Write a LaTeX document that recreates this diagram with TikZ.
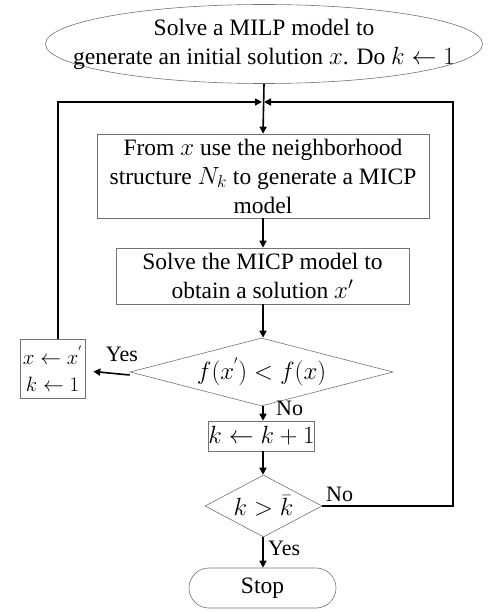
\documentclass[tikz,border=0pt]{standalone}
\usepackage{fontspec}
\setmainfont{Liberation Serif}
\usetikzlibrary{shapes.geometric,arrows.meta}
\tikzset{
  box/.style={draw=black!55, line width=0.6pt, align=center, inner sep=0pt},
  txt/.style={align=center, inner sep=0pt},
  conn/.style={line width=1.6pt, -{Triangle[length=7pt,width=7pt]}},
  lbl/.style={inner sep=0pt, font=\fontsize{22}{24}\selectfont}
}
\begin{document}
\begin{tikzpicture}[x=1pt,y=-1pt, font=\fontsize{23.5}{29}\selectfont]
\useasboundingbox (0,0) rectangle (487,612);
\node[box, ellipse, minimum width=437pt, minimum height=79pt] (start) at (264,44) {};
\node[txt] (startt) at (start) {Solve a MILP model to\\ generate an initial solution $x$. Do $k\leftarrow 1$};
\node[box, minimum width=332pt, minimum height=84pt] (b1) at (263,176)
  {From $x$ use the neighborhood\\ structure $N_k$ to generate a MICP\\ model};
\node[box, minimum width=293pt, minimum height=56pt] (b2) at (262.5,276)
  {Solve the MICP model to\\ obtain a solution $x'$};
\node[box, diamond, minimum width=263pt, minimum height=68pt] (d1) at (261.5,372) {};
\node[txt] (d1t) at (d1) {$f\big(x^{'}\big) < f(x)$};
\node[box, minimum width=65pt, minimum height=59pt, font=\fontsize{20.5}{27}\selectfont] (upd) at (52.5,368.5)
  {$x\leftarrow x^{'}$\\ $k\leftarrow 1$};
\node[box, minimum width=103pt, minimum height=30pt] (inc) at (261.5,436)
  {$k\leftarrow k+1$};
\node[box, diamond, minimum width=117pt, minimum height=62pt] (d2) at (263.5,506) {};
\node[txt] (d2t) at (d2) {$k>\bar{k}$};
\node[box, rounded corners=20pt, minimum width=147pt, minimum height=40pt] (stop) at (262.5,588)
  {Stop};
\coordinate (j) at (263,102);
\coordinate (rj) at (453,102);
\draw[conn] (start.south) -- (b1.north);
\draw[conn] ([xshift=5.5pt]upd.north) |- ([xshift=-1pt]j);
\draw[conn] (d2.east) -| (rj) -- ([xshift=1pt]j);
\draw[conn] (b1.south -| j) -- (b2.north -| j);
\draw[conn] (b2.south -| j) -- (d1.north -| j);
\draw[conn] ([yshift=-3pt]d1.west) -- ([xshift=8pt,yshift=-3pt]upd.east);
\draw[conn] (d1.south -| j) -- (inc.north -| j);
\draw[conn] (inc.south -| j) -- (d2.north -| j);
\draw[conn] (d2.south -| j) -- (stop.north -| j);
\node[lbl, anchor=south] (yes1) at (122,362) {Yes};
\node[lbl, anchor=west] (no1) at (276,408) {No};
\node[lbl, anchor=west] (no2) at (326,494) {No};
\node[lbl, anchor=west] (yes2) at (268,548) {Yes};
\end{tikzpicture}
\end{document}
